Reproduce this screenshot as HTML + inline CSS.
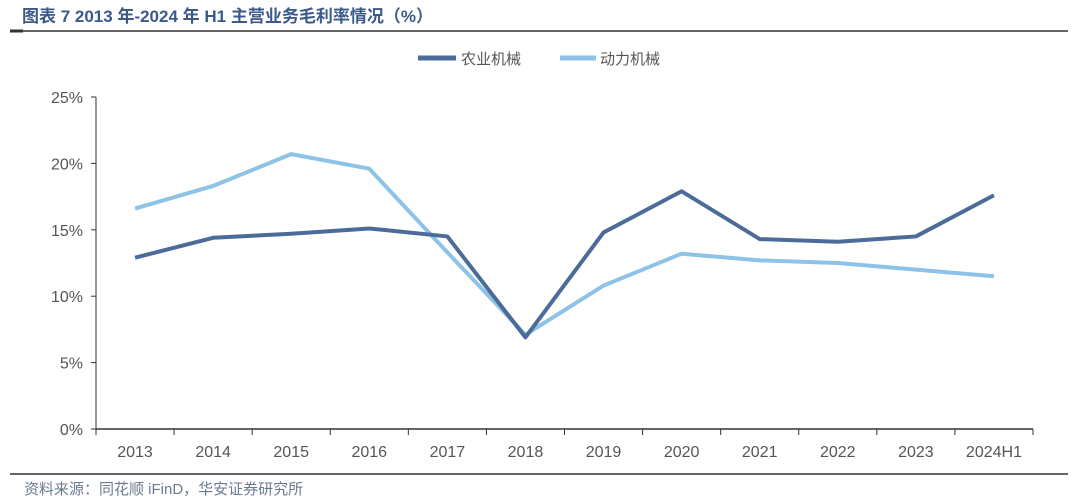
<!DOCTYPE html>
<html><head><meta charset="utf-8"><style>
body{margin:0;width:1080px;height:501px;background:#fff;overflow:hidden;font-family:"Liberation Sans","Noto Sans CJK SC",sans-serif;}
svg{position:absolute;left:0;top:0}
</style></head><body>
<svg width="1080" height="501">
<text x="22" y="22" font-size="17" font-weight="bold" fill="#3b5a8a" font-family="Liberation Sans,Noto Sans CJK SC,sans-serif">图表 7 2013 年-2024 年 H1 主营业务毛利率情况（%）</text>
<line x1="10" y1="31" x2="1068" y2="31" stroke="#333" stroke-width="1.5"/>
<line x1="10" y1="31" x2="23" y2="31" stroke="#333" stroke-width="3"/>
<g>
<line x1="418" y1="58" x2="456" y2="58" stroke="#4b6c98" stroke-width="5"/>
<text x="461" y="64" font-size="15" fill="#555">农业机械</text>
<line x1="560" y1="58" x2="596" y2="58" stroke="#8dc3e7" stroke-width="5"/>
<text x="600" y="64" font-size="15" fill="#555">动力机械</text>
</g>
<g id="plot"></g>
<line x1="10" y1="474" x2="1068" y2="474" stroke="#333" stroke-width="1.5"/>
<text x="24" y="494" font-size="15" fill="#6a7a90">资料来源：同花顺 iFinD，华安证券研究所</text>
</svg>
<script>
const categories=["2013","2014","2015","2016","2017","2018","2019","2020","2021","2022","2023","2024H1"];
const agriValues=[12.9,14.4,14.7,15.1,14.5,6.9,14.8,17.9,14.3,14.1,14.5,17.6];
const powerValues=[16.6,18.3,20.7,19.6,13.3,7.1,10.8,13.2,12.7,12.5,12.0,11.5];
const yTicks=[0,5,10,15,20,25];
const NS="http://www.w3.org/2000/svg";
const g=document.getElementById('plot');
const x0=96,x1=1033,yb=429,yt=97;
const band=(x1-x0)/categories.length;
const xs=i=>x0+band*(i+0.5);
const ys=v=>yb-(v/25)*(yb-yt);
function mk(t,a){const e=document.createElementNS(NS,t);for(const k in a)e.setAttribute(k,a[k]);g.appendChild(e);return e;}
let ax=mk('line',{x1:x0,y1:yt,x2:x0,y2:yb,stroke:'#333','stroke-width':1});


let bx=mk('line',{x1:x0,y1:yb,x2:x1,y2:yb,stroke:'#333','stroke-width':1.5});


yTicks.forEach(v=>{
 const y=ys(v);
 mk('line',{x1:x0-5,y1:y,x2:x0,y2:y,stroke:'#333'});
 const t=mk('text',{x:x0-13,y:y+6,'font-size':16,fill:'#555','text-anchor':'end'});
 t.textContent=v+'%';
 
 
});
for(let i=0;i<=categories.length;i++){const x=x0+band*i;mk('line',{x1:x,y1:yb,x2:x,y2:yb+6,stroke:'#333'});}
categories.forEach((c,i)=>{
 const t=mk('text',{x:xs(i),y:yb+28,'font-size':16,fill:'#555','text-anchor':'middle'});
 t.textContent=c;
 
 
});
function line(vals,color,name){
 const p=mk('polyline',{points:vals.map((v,i)=>xs(i)+','+ys(v)).join(' '),fill:'none',stroke:color,'stroke-width':4,'stroke-linejoin':'round'});
 
 
}
line(powerValues,'#8dc3e7','series-power-machinery');
line(agriValues,'#4b6c98','series-agri-machinery');
</script>
</body></html>
